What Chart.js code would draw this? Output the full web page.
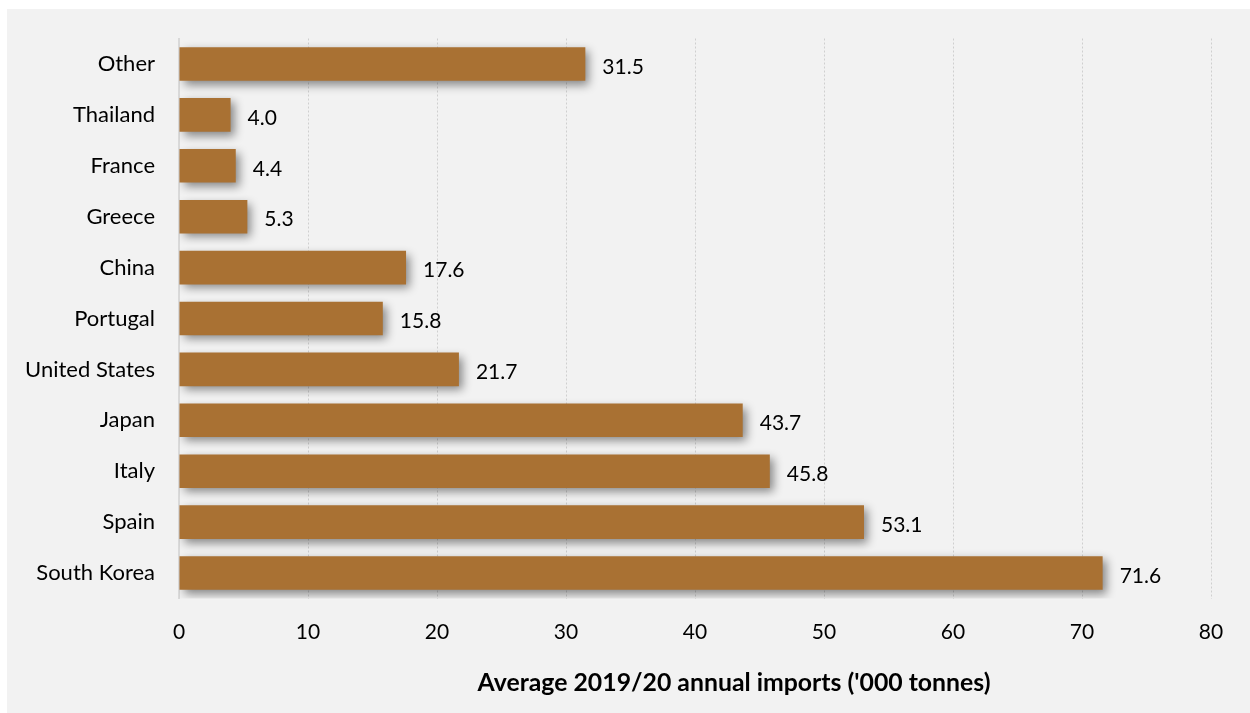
<!DOCTYPE html>
<html>
<head>
<meta charset="utf-8">
<script src="https://cdn.jsdelivr.net/npm/chart.js@4/dist/chart.umd.min.js"></script>
<style>
  html, body { margin: 0; padding: 0; background: #ffffff; }
  #wrap { position: absolute; left: 7px; top: 9px; width: 1243px; height: 704px; background: #f2f2f2; }
  canvas { display: block; }
</style>
</head>
<body>
<div id="wrap"><canvas id="chart" width="1243" height="704"></canvas></div>
<script>
// ---------- data ----------
const countries = ["Other", "Thailand", "France", "Greece", "China", "Portugal",
  "United States", "Japan", "Italy", "Spain", "South Korea"];
const imports = [31.5, 4.0, 4.4, 5.3, 17.6, 15.8, 21.7, 43.7, 45.8, 53.1, 71.6];
const xTicks = [0, 10, 20, 30, 40, 50, 60, 70, 80];
const axisTitle = "Average 2019/20 annual imports ('000 tonnes)";

const FONT = "Lato, 'Open Sans', sans-serif";
const BAR = "#a97133";

// ---------- plugins ----------
const barShadow = {
  id: "barShadow",
  beforeDatasetsDraw(chart) {
    const c = chart.ctx;
    c.save();
    c.shadowColor = "rgba(0,0,0,0.45)";
    c.shadowBlur = 9;
    c.shadowOffsetX = 4;
    c.shadowOffsetY = 4;
  },
  afterDatasetsDraw(chart) {
    chart.ctx.restore();
  }
};

const valueLabels = {
  id: "valueLabels",
  afterDraw(chart) {
    const c = chart.ctx;
    const meta = chart.getDatasetMeta(0);
    c.save();
    c.font = "21px " + FONT;
    c.fillStyle = "#000";
    c.textAlign = "left";
    c.textBaseline = "middle";
    meta.data.forEach((bar, i) => {
      c.fillText(imports[i].toFixed(1), bar.x + 17, bar.y + 3);
    });
    // axis title (sits right of the plot centre in the original)
    c.font = "bold 24.8px " + FONT;
    c.textAlign = "center";
    c.fillText(axisTitle, 727, 674);
    c.restore();
  }
};

// ---------- chart ----------
new Chart(document.getElementById("chart"), {
  type: "bar",
  data: {
    labels: countries,
    datasets: [{
      data: imports,
      backgroundColor: BAR,
      borderWidth: 0,
      barPercentage: 0.66,
      categoryPercentage: 1.0
    }]
  },
  options: {
    indexAxis: "y",
    responsive: false,
    animation: false,
    layout: { padding: { left: 0, right: 39, top: 29.5, bottom: 0 } },
    plugins: { legend: { display: false }, tooltip: { enabled: false } },
    scales: {
      x: {
        min: 0, max: 80,
        afterBuildTicks: s => { s.ticks = xTicks.map(v => ({ value: v })); },
        afterFit: s => { s.height = 114.5; },
        grid: { color: "#cfcfcf", lineWidth: 1, drawTicks: false },
        border: { display: false, dash: [2, 2] },
        ticks: { color: "#000", font: { size: 21, family: FONT }, padding: 21 }
      },
      y: {
        afterFit: s => { s.width = 172; s.paddingTop = 0; s.paddingBottom = 0; },
        grid: { display: false, drawTicks: false },
        border: { display: true, color: "#d9d9d9", width: 2 },
        ticks: { color: "#000", font: { size: 22, family: FONT }, padding: 24 }
      }
    }
  },
  plugins: [barShadow, valueLabels]
});
</script>
</body>
</html>
